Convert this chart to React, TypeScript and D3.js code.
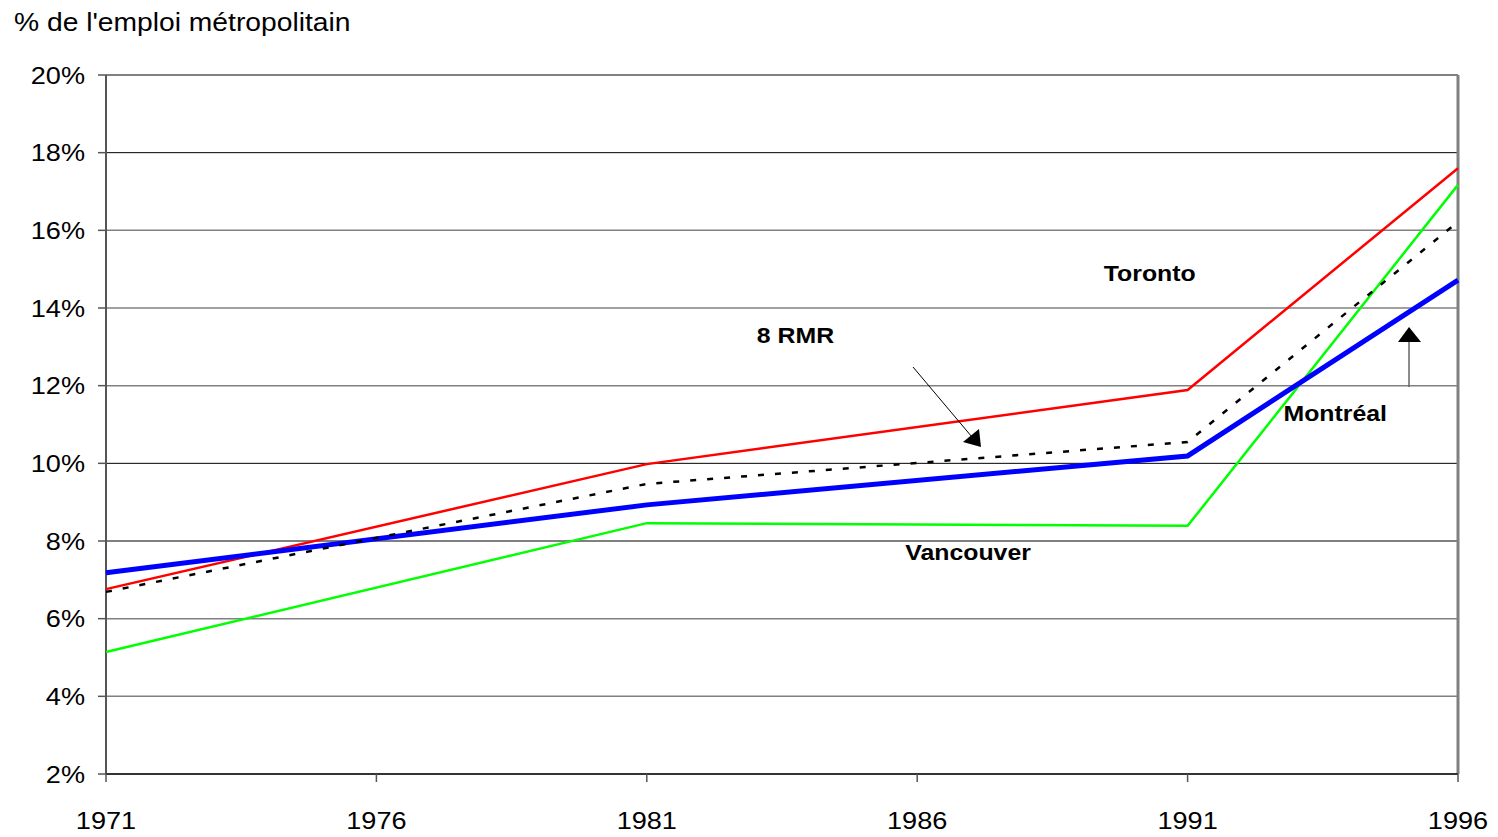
import React from "react";
import * as d3 from "d3";

const years = [1971, 1981, 1991, 1996];
const tickYears = [1971, 1976, 1981, 1986, 1991, 1996];
const yTicks = [2, 4, 6, 8, 10, 12, 14, 16, 18, 20];
const montreal = [7.18, 8.93, 10.19, 14.72];
const toronto = [6.76, 9.98, 11.89, 17.6];
const vancouver = [5.14, 8.46, 8.39, 17.17];
const rmr8 = [6.69, 9.47, 10.55, 16.22];

const seriesLabels = [
  { text: "Toronto", year: 1990.3, value: 14.9 },
  { text: "8 RMR", year: 1983.75, value: 13.3 },
  { text: "Montréal", year: 1993.73, value: 11.3 },
  { text: "Vancouver", year: 1986.94, value: 7.7 },
];

const darkGrid = new Set([18, 10, 8]);
const SX = 1.13;

function SText(props: {
  x: number;
  y: number;
  size: number;
  anchor?: "start" | "middle" | "end";
  bold?: boolean;
  dy?: string;
  children: React.ReactNode;
}) {
  return (
    <text
      transform={`translate(${props.x},${props.y}) scale(${SX},1)`}
      x={0}
      y={0}
      dy={props.dy}
      textAnchor={props.anchor || "start"}
      fontSize={props.size}
      fontWeight={props.bold ? "bold" : "normal"}
      fill="#000"
    >
      {props.children}
    </text>
  );
}

export default function App() {
  const W = 1498, H = 837;
  const x = d3.scaleLinear().domain([1971, 1996]).range([106, 1458]);
  const y = d3.scaleLinear().domain([2, 20]).range([774, 75]);
  const line = d3
    .line<[number, number]>()
    .x((d) => x(d[0]))
    .y((d) => y(d[1]));
  const pts = (vals: number[]) => years.map((yr, i) => [yr, vals[i]] as [number, number]);
  const font = "Liberation Sans, Arial, sans-serif";

  return (
    <svg
      width={W}
      height={H}
      style={{ position: "absolute", left: 0, top: 0, background: "#fff" }}
      fontFamily={font}
    >
      <rect x={0} y={0} width={W} height={H} fill="#fff" />
      <SText x={14} y={31} size={25}>% de l'emploi métropolitain</SText>

      {yTicks.map((t) => (
        <g key={t}>
          {t > 2 && t < 20 && (
            <line
              x1={x(1971)}
              x2={x(1996)}
              y1={y(t)}
              y2={y(t)}
              stroke={darkGrid.has(t) ? "#000" : "#808080"}
              strokeWidth={darkGrid.has(t) ? 1 : 1.5}
            />
          )}
          <line x1={98} x2={106} y1={y(t)} y2={y(t)} stroke="#555" strokeWidth={1.5} />
          <SText x={85} y={y(t)} dy="0.36em" anchor="end" size={24}>
            {t}%
          </SText>
        </g>
      ))}

      {/* frame */}
      <line x1={x(1971)} x2={x(1996)} y1={y(20)} y2={y(20)} stroke="#808080" strokeWidth={2} />
      <line x1={x(1996)} x2={x(1996)} y1={y(20)} y2={y(2)} stroke="#808080" strokeWidth={3} />
      <line x1={x(1971)} x2={x(1971)} y1={y(20)} y2={y(2)} stroke="#555" strokeWidth={2} />
      <line x1={x(1971)} x2={x(1996)} y1={y(2)} y2={y(2)} stroke="#333" strokeWidth={2} />

      {tickYears.map((t) => (
        <g key={t}>
          <line x1={x(t)} x2={x(t)} y1={774} y2={782} stroke="#555" strokeWidth={1.5} />
          <SText x={x(t)} y={829} anchor="middle" size={24}>
            {t}
          </SText>
        </g>
      ))}

      <path d={line(pts(vancouver)) || ""} fill="none" stroke="#00FF00" strokeWidth={2.5} />
      <path d={line(pts(toronto)) || ""} fill="none" stroke="#FF0000" strokeWidth={2.5} />
      <path d={line(pts(montreal)) || ""} fill="none" stroke="#0000FF" strokeWidth={5} />
      <path
        d={line(pts(rmr8)) || ""}
        fill="none"
        stroke="#000"
        strokeWidth={2.5}
        strokeDasharray="6,11"
      />

      {seriesLabels.map((l) => (
        <SText key={l.text} x={x(l.year)} y={y(l.value)} dy="0.35em" anchor="middle" size={22} bold>
          {l.text}
        </SText>
      ))}

      {/* arrow toward 8 RMR */}
      <line x1={913} y1={367} x2={972} y2={437} stroke="#000" strokeWidth={1} />
      <polygon points="981,447 963,442 979,429" fill="#000" />
      {/* arrow toward Montréal */}
      <line x1={1409} y1={387} x2={1409} y2={340} stroke="#666" strokeWidth={1.5} />
      <polygon points="1409,327 1398,342 1421,342" fill="#000" />
    </svg>
  );
}
